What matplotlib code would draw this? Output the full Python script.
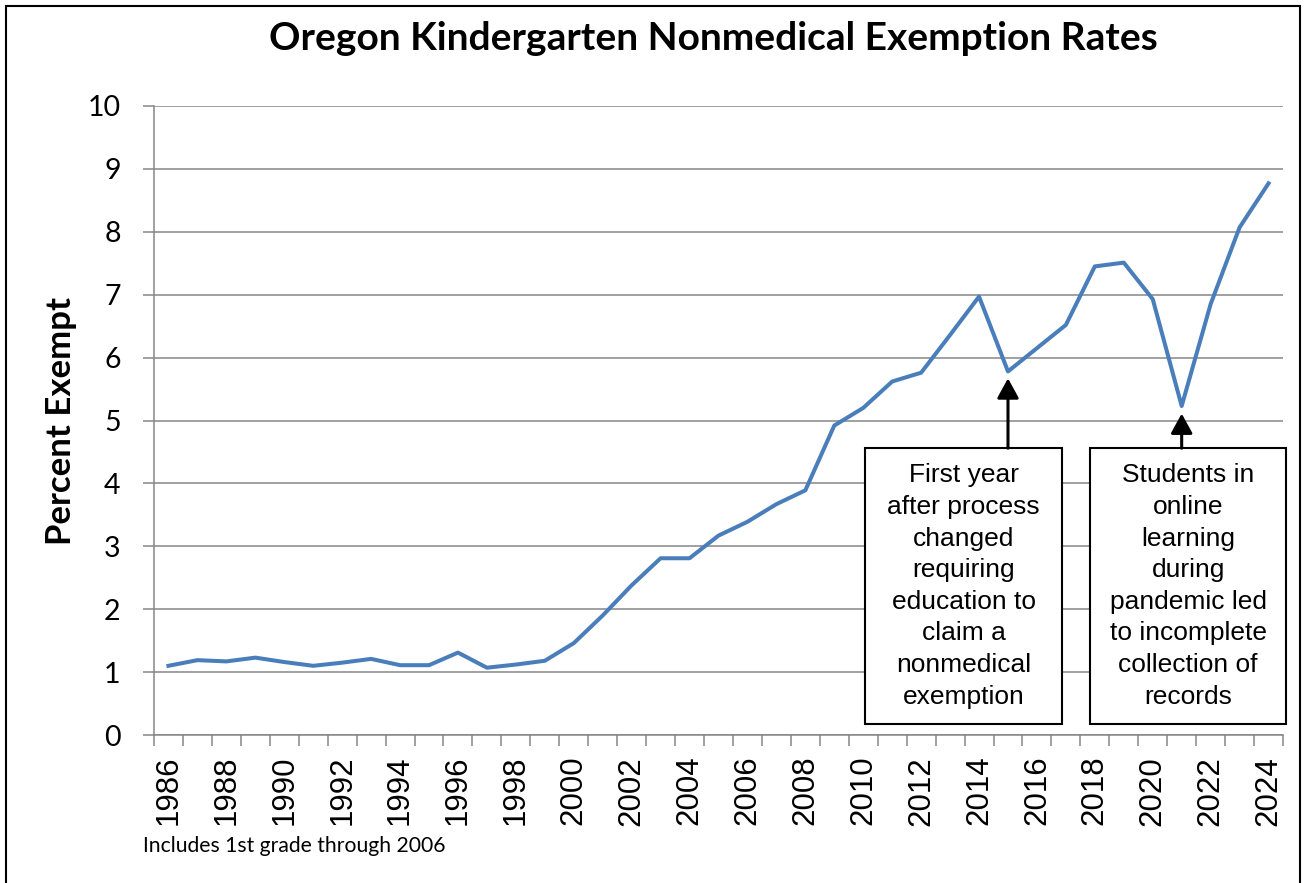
#!/usr/bin/env python3
"""Oregon kindergarten nonmedical exemption rates, 1986-2024 (line chart with two callouts)."""

import matplotlib

matplotlib.use("Agg")
import matplotlib.pyplot as plt
from matplotlib.patches import Rectangle

W, H = 1307, 883

years = list(range(1986, 2025))
rates = [
    1.10, 1.19, 1.17, 1.23, 1.16, 1.10, 1.15, 1.21, 1.11, 1.11,  # 1986-1995
    1.31, 1.07, 1.12, 1.18, 1.46, 1.90, 2.38, 2.81, 2.81, 3.17,  # 1996-2005
    3.39, 3.67, 3.89, 4.92, 5.20, 5.62, 5.76, 6.36, 6.97, 5.78,  # 2006-2015
    6.15, 6.52, 7.45, 7.51, 6.93, 5.23, 6.85, 8.07, 8.77,        # 2016-2024
]
tick_years = years[::2]

title = "Oregon Kindergarten Nonmedical Exemption Rates"
ylabel = "Percent Exempt"
footnote = "Includes 1st grade through 2006"
note_2015 = ("First year\nafter process\nchanged\nrequiring\neducation to\n"
             "claim a\nnonmedical\nexemption")
note_2021 = ("Students in\nonline\nlearning\nduring\npandemic led\n"
             "to incomplete\ncollection of\nrecords")

BLUE = "#4A7EBB"
GRID = "#868686"
CAL = ["Lato", "DejaVu Sans"]      # stand-in for Calibri
ARIAL = ["Liberation Sans", "DejaVu Sans"]


def px(x, y):
    # figure pixel -> figure fraction
    return x / W, 1 - y / H


def callout(ax, year, tip_y, box_x0, box_x1, text):
    i = years.index(year)
    y0, y1 = 0.175, 4.56
    ax.add_patch(Rectangle((box_x0, y0), box_x1 - box_x0, y1 - y0,
                           facecolor="white", edgecolor="black", lw=1.5,
                           zorder=5, clip_on=False))
    ax.text((box_x0 + box_x1) / 2, (y0 + y1) / 2, text, ha="center", va="center",
            family=ARIAL, fontsize=19, linespacing=1.4, zorder=6)
    ax.annotate("", xy=(i, tip_y), xytext=(i, y1),
                arrowprops=dict(arrowstyle="-|>,head_length=0.4,head_width=0.22",
                                mutation_scale=30, color="black", lw=2.2,
                                shrinkA=0, shrinkB=0),
                zorder=6)


def main():
    fig = plt.figure(figsize=(W / 100, H / 100), dpi=100)
    l, b = px(154, 735)
    r, t = px(1283, 106)
    ax = fig.add_axes([l, b, r - l, t - b])

    idx = list(range(len(years)))
    ax.plot(idx, rates, color=BLUE, lw=2.9, zorder=4)

    ax.set_xlim(-0.5, len(years) - 0.5)
    ax.set_ylim(0, 10)
    ax.set_yticks(range(0, 11))
    ax.grid(True, axis="y", color=GRID, lw=1.1, zorder=0)
    ax.set_axisbelow(True)
    for s in ("top", "right"):
        ax.spines[s].set_visible(False)
    for s in ("left", "bottom"):
        ax.spines[s].set_color(GRID)
        ax.spines[s].set_linewidth(1.1)

    # category boundaries carry the tick marks, labels sit on every other year
    ax.set_xticks([i - 0.5 for i in range(len(years) + 1)])
    ax.set_xticklabels([])
    ax.set_xticks([years.index(y) for y in tick_years], minor=True)
    ax.set_xticklabels([str(y) for y in tick_years], minor=True, rotation=90,
                       family=ARIAL, fontsize=22.5)
    ax.tick_params(axis="x", which="major", length=8, width=1.1, color=GRID)
    ax.tick_params(axis="x", which="minor", length=0, pad=15)
    ax.tick_params(axis="y", length=8, width=1.1, color=GRID, pad=16, labelsize=20.5)
    for lab in ax.get_yticklabels():
        lab.set_family(CAL)

    callout(ax, 2015, 5.67, 24.07, 30.87, note_2015)
    callout(ax, 2021, 5.11, 31.85, 38.60, note_2021)

    fig.text(*px(713, 38), title, ha="center", va="center", family=CAL,
             fontsize=28, fontweight="bold")
    fig.text(*px(61, 421), ylabel, ha="center", va="center", rotation=90,
             family=CAL, fontsize=25, fontweight="bold")
    fig.text(*px(143, 846), footnote, ha="left", va="center", family=CAL,
             fontsize=15.2)

    # chart-area border (bottom edge runs off the image)
    x0, y0 = px(6, 6)
    x1, _ = px(1300, 0)
    fig.add_artist(Rectangle((x0, -0.05), x1 - x0, y0 + 0.05, transform=fig.transFigure,
                             fill=False, edgecolor="black", lw=1.5))

    fig.savefig("out.png", dpi=100, facecolor="white")
    plt.close(fig)


if __name__ == "__main__":
    main()
